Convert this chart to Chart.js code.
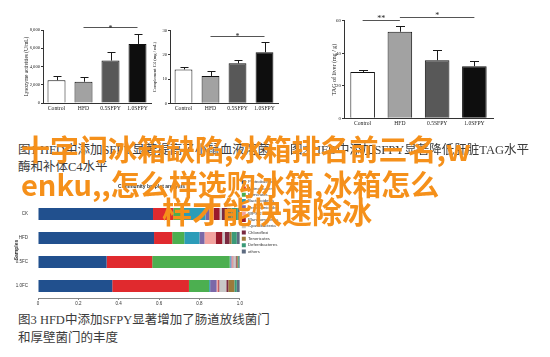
<!DOCTYPE html>
<html><head><meta charset="utf-8">
<script src="https://cdn.jsdelivr.net/npm/chart.js@4.4.1/dist/chart.umd.min.js"></script>
<style>
html,body{margin:0;padding:0;background:#fff;}
#page{position:relative;width:550px;height:357px;overflow:hidden;background:#fff;}
canvas{position:absolute;}
.cap{position:absolute;font-family:"Liberation Serif","Noto Sans CJK SC",serif;font-size:12.5px;color:#3a3a3a;white-space:nowrap;line-height:1;}
.hot{position:absolute;font-family:"Noto Sans CJK SC",sans-serif;font-weight:bold;font-size:29px;color:#f5901a;white-space:nowrap;line-height:1;}
</style></head>
<body><div id="page">
<canvas id="c1" width="160" height="125" style="left:0;top:0"></canvas>
<canvas id="c2" width="145" height="125" style="left:140px;top:0"></canvas>
<canvas id="c3" width="220" height="135" style="left:280px;top:0"></canvas>
<canvas id="c4" width="300" height="130" style="left:0;top:178px"></canvas>
<div class="cap" style="left:18px;top:144px">图1 HFD中添加SFPY显著提高了小鼠血液溶菌</div>
<div class="cap" style="left:18px;top:161px">酶和补体C4水平</div>
<div class="cap" style="left:290px;top:144px">图2 HFD中添加SFPY显著降低肝脏TAG水平</div>
<div class="cap" style="left:18px;top:314px">图3 HFD中添加SFPY显著增加了肠道放线菌门</div>
<div class="cap" style="left:18px;top:332px">和厚壁菌门的丰度</div>
<div class="hot" style="left:21px;top:134px">十字门冰箱缺陷,冰箱排名前三名,w</div>
<div class="hot" style="left:21px;top:169px">enku,,怎么样选购冰箱,冰箱怎么</div>
<div class="hot" style="left:162px;top:195px;font-size:30px">样才能快速除冰</div>
</div>
<script>
// ---- data: bar charts ----
const groups = ['Control', 'HFD', '0.5SFPY', '1.0SFPY'];
const lysozymeMean = [2500, 2330, 4650, 6470];
const lysozymeErr = [480, 570, 950, 1130];
const lysozymeTicks = [0, 2000, 4000, 6000, 8000];
const lysozymeSig = [{from: 1, to: 3, at: 8350, mark: '*'}];
const c4Mean = [14.0, 11.3, 16.5, 21.1];
const c4Err = [0.9, 2.1, 1.4, 4.4];
const c4Ticks = [0, 10, 20, 30];
const c4Sig = [{from: 1, to: 3, at: 27.8, mark: '*'}];
const tagMean = [28.5, 53.2, 35.7, 32.0];
const tagErr = [1.0, 3.7, 6.3, 3.2];
const tagTicks = [0, 20, 40, 60];
const tagSig = [{from: 0, to: 1, at: 60.4, mark: '**'}, {from: 1, to: 3, at: 62.5, mark: '*'}];

// ---- data: community barplot ----
const samples = ['CK', 'HFD', '0.5FC', '1.0FC'];
const phyla = ['Proteobacteria', 'Actinobacteria', 'Firmicutes', 'Bacteroidetes', 'Verrucomicrobia', 'WPS-2',
  'Planctomycetes', 'Cyanobacteria', 'Chloroflexi', 'Tenericutes', 'Deferribacteres', 'others'];
const proteobacteria = [0.57, 0.575, 0.34, 0.368];
const actinobacteria = [0.10, 0.09, 0.226, 0.38];
const firmicutes = [0.05, 0.06, 0.384, 0.10];
const bacteroidetes = [0.11, 0.075, 0.004, 0.005];
const verrucomicrobia = [0.02, 0.025, 0.005, 0.032];
const wps2 = [0.02, 0.055, 0.005, 0.008];
const planctomycetes = [0.03, 0.033, 0.003, 0.005];
const cyanobacteria = [0.01, 0.012, 0.012, 0.035];
const chloroflexi = [0.03, 0.024, 0.005, 0.01];
const tenericutes = [0.02, 0.01, 0.006, 0.03];
const deferribacteres = [0.03, 0.026, 0.005, 0.012];
const others = [0.01, 0.015, 0.005, 0.015];
const shares = [proteobacteria, actinobacteria, firmicutes, bacteroidetes, verrucomicrobia, wps2,
  planctomycetes, cyanobacteria, chloroflexi, tenericutes, deferribacteres, others];
const xShareTicks = [0, 0.2, 0.4, 0.6, 0.8, 1];

// ---- styles ----
const groupFill = ['#ffffff', '#a2a2a2', '#585858', '#0e0e0e'];
const phylaColors = ['#21508e', '#e02a2e', '#4caf50', '#2c9cb8', '#7b68a8', '#f3a39f', '#9a1a2c',
  '#c8c8c8', '#7a2a40', '#9c7a3a', '#3a9a78', '#5d6b80'];

Chart.defaults.font.family = 'Liberation Serif';
Chart.defaults.color = '#222';

function makeSig(cfg) {
  return {
    id: 'sig_' + cfg.id,
    afterDatasetsDraw(chart) {
      const ctx = chart.ctx, x = chart.scales.x, y = chart.scales.y;
      const meta = chart.getDatasetMeta(0);
      ctx.save();
      ctx.strokeStyle = '#1a1a1a';
      ctx.lineWidth = 1;
      meta.data.forEach((bar, i) => {
        const top = Math.round(y.getPixelForValue(cfg.mean[i] + cfg.err[i])) + 0.5;
        const bx = Math.round(bar.x) + 0.5;
        ctx.beginPath();
        ctx.moveTo(bx, bar.y);
        ctx.lineTo(bx, top);
        ctx.moveTo(bx - cfg.cap, top);
        ctx.lineTo(bx + cfg.cap, top);
        ctx.stroke();
      });
      ctx.strokeStyle = '#555';
      ctx.fillStyle = '#222';
      ctx.font = cfg.star + 'px "Liberation Serif"';
      ctx.textAlign = 'center';
      ctx.textBaseline = 'alphabetic';
      cfg.sig.forEach(b => {
        const x1 = x.getPixelForValue(b.from), x2 = x.getPixelForValue(b.to);
        const yy = Math.round(y.getPixelForValue(b.at)) + 0.5;
        ctx.beginPath();
        ctx.moveTo(x1, yy);
        ctx.lineTo(x2, yy);
        ctx.stroke();
        ctx.fillText(b.mark, (x1 + x2) / 2, yy + cfg.starDy);
      });
      ctx.restore();
    }
  };
}

function errorBarChart(cfg) {
  return new Chart(document.getElementById(cfg.id), {
    type: 'bar',
    data: {
      labels: groups,
      datasets: [{
        data: cfg.mean, backgroundColor: groupFill, borderColor: '#111', borderWidth: 1,
        borderSkipped: 'bottom', barPercentage: cfg.barPct, categoryPercentage: 1
      }]
    },
    options: {
      responsive: false, animation: false, devicePixelRatio: 1,
      layout: {autoPadding: false, padding: cfg.pad},
      plugins: {legend: {display: false}, tooltip: {enabled: false}},
      scales: {
        x: {
          grid: {display: false, drawTicks: false},
          border: {display: true, color: '#333', width: 1},
          ticks: {font: {size: cfg.xFont}, color: '#222', padding: cfg.xPad, maxRotation: 0, autoSkip: false},
          afterFit: s => { s.height = cfg.xH; }
        },
        y: {
          min: 0, max: cfg.ticks[cfg.ticks.length - 1],
          afterBuildTicks: s => { s.ticks = cfg.ticks.map(v => ({value: v})); },
          grid: {drawOnChartArea: false, drawTicks: true, tickLength: 2, color: '#333'},
          border: {display: true, color: '#333'},
          ticks: {font: {size: cfg.yFont}, color: '#222', padding: 1},
          title: {display: true, text: cfg.title, font: {size: cfg.titleFont}, color: '#222', padding: 0},
          afterFit: s => { s.width = cfg.yW; }
        }
      }
    },
    plugins: [makeSig(cfg)]
  });
}

errorBarChart({id: 'c1', mean: lysozymeMean, err: lysozymeErr, ticks: lysozymeTicks, sig: lysozymeSig,
  title: 'Lysozyme activities (U/mL)', pad: {top: 30, left: 23, right: 9, bottom: 0},
  yW: 20, xH: 22, xFont: 5.7, xPad: 2, yFont: 4.6, titleFont: 5.3, barPct: 0.667, cap: 4, star: 8, starDy: 3});

errorBarChart({id: 'c2', mean: c4Mean, err: c4Err, ticks: c4Ticks, sig: c4Sig,
  title: 'Complement C4 (mg / mL)', pad: {top: 30.7, left: 12, right: 7, bottom: 0},
  yW: 18, xH: 21.7, xFont: 5.7, xPad: 2, yFont: 4.6, titleFont: 4.6, barPct: 0.66, cap: 4, star: 8, starDy: 2});

errorBarChart({id: 'c3', mean: tagMean, err: tagErr, ticks: tagTicks, sig: tagSig,
  title: 'TAG of liver (mg / g)', pad: {top: 20.7, left: 51, right: 7, bottom: 0},
  yW: 13, xH: 16.7, xFont: 5.6, xPad: 1.5, yFont: 5, titleFont: 6, barPct: 0.66, cap: 4.5, star: 8, starDy: 0});

new Chart(document.getElementById('c4'), {
  type: 'bar',
  data: {
    labels: samples,
    datasets: phyla.map((p, i) => ({
      label: p, data: shares[i], backgroundColor: phylaColors[i], borderWidth: 0,
      barPercentage: 0.5, categoryPercentage: 1
    }))
  },
  options: {
    indexAxis: 'y', responsive: false, animation: false, devicePixelRatio: 1,
    layout: {autoPadding: false, padding: {left: 14, right: 11, top: 0, bottom: 0}},
    plugins: {
      title: {display: true, text: 'Community barplot analysis', font: {size: 5, family: 'Liberation Sans'},
        color: '#333', padding: {top: 6, bottom: 12}},
      legend: {position: 'right', align: 'start',
        labels: {boxWidth: 4, boxHeight: 4, padding: 2, font: {size: 4.3, family: 'Liberation Sans'}, color: '#333'}},
      tooltip: {enabled: false}
    },
    scales: {
      x: {
        stacked: true, min: 0, max: 1,
        afterBuildTicks: s => { s.ticks = xShareTicks.map(v => ({value: v})); },
        ticks: {font: {size: 4.5, family: 'Liberation Sans'}, padding: 1, color: '#333'},
        grid: {display: true, drawOnChartArea: false, drawTicks: true, tickLength: 2, color: '#888'},
        border: {display: true, color: '#888'},
        afterFit: s => { s.height = 10; }
      },
      y: {
        stacked: true,
        ticks: {font: {size: 4.5, family: 'Liberation Sans'}, padding: 2, color: '#333'},
        grid: {display: false}, border: {display: false},
        title: {display: true, text: 'Samples', font: {size: 5, family: 'Liberation Sans', weight: 'bold'}, color: '#333', padding: 0},
        afterFit: s => { s.width = 24; }
      }
    }
  }
});
</script>
</body></html>
